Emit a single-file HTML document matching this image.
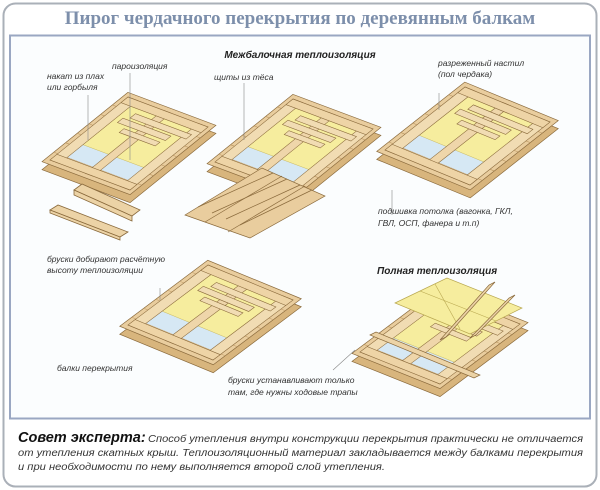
<!DOCTYPE html>
<html><head><meta charset="utf-8"><style>
html,body{margin:0;padding:0;background:#fff;width:600px;height:490px;overflow:hidden}
</style></head><body>
<svg width="600" height="490" viewBox="0 0 600 490" xmlns="http://www.w3.org/2000/svg" font-family="Liberation Sans, DejaVu Sans, sans-serif">
<defs>
<rect id="slab" x="-5" y="-5" width="110" height="110" fill="#d8b57d" stroke="#8a6a3c" stroke-width="0.7" vector-effect="non-scaling-stroke"/>
<g id="deck">
  <rect x="-5" y="-5" width="110" height="110" fill="#e9cd9e" stroke="#8a6a3c" vector-effect="non-scaling-stroke" stroke-width="0.7"/>
  <g stroke="#b8925c" stroke-width="0.6" vector-effect="non-scaling-stroke">
    <line x1="-5" y1="10" x2="105" y2="10"/><line x1="-5" y1="25" x2="105" y2="25"/>
    <line x1="-5" y1="40" x2="105" y2="40"/><line x1="-5" y1="55" x2="105" y2="55"/>
    <line x1="-5" y1="70" x2="105" y2="70"/><line x1="-5" y1="85" x2="105" y2="85"/>
  </g>
  <rect x="12" y="10" width="76" height="24" fill="#d6e8f4"/>
  <rect x="12" y="30" width="76" height="62" fill="#f6ed9e" stroke="#c9b860" stroke-width="0.5" vector-effect="non-scaling-stroke"/>
  <g fill="#f1dcb3" stroke="#8a6a3c" stroke-width="0.7" vector-effect="non-scaling-stroke">
  <rect x="0" y="0" width="12" height="100"/>
  <rect x="88" y="0" width="12" height="100"/>
  <rect x="44" y="0" width="10" height="100" fill="#efd6aa"/>
  <rect x="0" y="0" width="100" height="9" fill="#eed4a6"/>
  <rect x="0" y="91" width="100" height="9" fill="#eed4a6"/>
  <rect x="18" y="68" width="60" height="7"/><rect x="24" y="78" width="70" height="7"/><rect x="30" y="58" width="45" height="6"/>
  </g>
</g>
</defs>
<rect x="3.5" y="3.5" width="593" height="483" rx="12" fill="#fff" stroke="#aab0b8" stroke-width="2"/>
<text x="300" y="24" text-anchor="middle" font-family="Liberation Serif, serif" font-weight="bold" font-size="19" fill="#7d8fab">Пирог чердачного перекрытия по деревянным балкам</text>
<rect x="10" y="35.5" width="580" height="383" fill="#fbfdfe" stroke="#9aa7c2" stroke-width="2"/>

<use href="#slab" transform="translate(0,8) matrix(0.8,0.3,0.78,-0.63,50,160)"/>
<use href="#deck" transform="matrix(0.8,0.3,0.78,-0.63,50,160)"/>
<g fill="#ecd3a6" stroke="#8a6a3c" stroke-width="0.8">
<polygon points="74,190 82,184 140,210 132,216"/><polygon points="74,190 132,216 132,221 74,195"/>
<polygon points="50,210 58,205 128,232 120,237"/><polygon points="50,210 120,237 120,240 50,213"/>
</g>
<use href="#slab" transform="translate(0,8) matrix(0.8,0.3,0.78,-0.63,215,162)"/>
<use href="#deck" transform="matrix(0.8,0.3,0.78,-0.63,215,162)"/>
<polygon points="185,215 262,168 325,196 250,238" fill="#e9cd9e" stroke="#8a6a3c" stroke-width="0.7"/>
<g stroke="#8a6a3c" stroke-width="0.7">
<line x1="198" y1="207" x2="273" y2="173"/><line x1="212" y1="213" x2="287" y2="179"/><line x1="226" y1="219" x2="300" y2="185"/><line x1="240" y1="225" x2="312" y2="190"/>
<line x1="205" y1="222" x2="282" y2="176"/><line x1="228" y1="232" x2="305" y2="186"/>
</g>
<use href="#slab" transform="translate(0,8) matrix(0.85,0.35,0.8,-0.63,385,150)"/>
<use href="#deck" transform="matrix(0.85,0.35,0.8,-0.63,385,150)"/>
<use href="#slab" transform="translate(0,8) matrix(0.85,0.35,0.8,-0.6,128,325)"/>
<use href="#deck" transform="matrix(0.85,0.35,0.8,-0.6,128,325)"/>
<use href="#slab" transform="translate(0,8) matrix(0.8,0.32,0.8,-0.6,360,352)"/>
<use href="#deck" transform="matrix(0.8,0.32,0.8,-0.6,360,352)"/>
<polygon points="395,303 447,278 522,308 470,334" fill="#f6ed9e" stroke="#b9a850" stroke-width="0.7"/>
<g stroke="#b9a850" stroke-width="0.6"><line x1="420" y1="291" x2="496" y2="321"/><line x1="435" y1="284" x2="460" y2="329"/></g>
<g fill="#ecd3a6" stroke="#8a6a3c" stroke-width="0.7">
<polygon points="440,340 446,337 495,282 489,285"/><polygon points="470,338 476,335 515,295 509,298"/>
<polygon points="370,335 376,332 480,375 474,378"/>
</g>

<g stroke="#888" stroke-width="0.6">
<line x1="88" y1="95" x2="88" y2="140"/><line x1="130" y1="73" x2="130" y2="160"/>
<line x1="244" y1="83" x2="244" y2="140"/><line x1="439" y1="93" x2="439" y2="110"/>
<line x1="392" y1="215" x2="392" y2="190"/><line x1="160" y1="288" x2="160" y2="300"/>
<line x1="333" y1="370" x2="355" y2="350"/>
</g>
<g font-style="italic" font-size="8.5" fill="#333">
<text x="300" y="58" text-anchor="middle" font-weight="bold" font-size="10" fill="#222">Межбалочная теплоизоляция</text>
<text x="112" y="69">пароизоляция</text>
<text x="47" y="79">накат из плах</text><text x="47" y="90">или горбыля</text>
<text x="214" y="80">щиты из тёса</text>
<text x="438" y="66">разреженный настил</text><text x="438" y="77">(пол чердака)</text>
<text x="378" y="214">подшивка потолка (вагонка, ГКЛ,</text><text x="378" y="226">ГВЛ, ОСП, фанера и т.п)</text>
<text x="47" y="262">бруски добирают расчётную</text><text x="47" y="273">высоту теплоизоляции</text>
<text x="377" y="274" font-weight="bold" font-size="10" fill="#222">Полная теплоизоляция</text>
<text x="57" y="371">балки перекрытия</text>
<text x="228" y="383">бруски устанавливают только</text><text x="228" y="395">там, где нужны ходовые трапы</text>
</g>
<g font-style="italic" font-size="10" fill="#333">
<text x="18" y="442"><tspan font-weight="bold" font-size="14.5" fill="#111">Совет эксперта:</tspan></text>
<text x="148" y="442" textLength="435" lengthAdjust="spacingAndGlyphs">Способ утепления внутри конструкции перекрытия практически не отличается</text>
<text x="18" y="456" textLength="565" lengthAdjust="spacingAndGlyphs">от утепления скатных крыш. Теплоизоляционный материал закладывается между балками перекрытия</text>
<text x="18" y="470" textLength="367" lengthAdjust="spacingAndGlyphs">и при необходимости по нему выполняется второй слой утепления.</text>
</g>
</svg>
</body></html>
